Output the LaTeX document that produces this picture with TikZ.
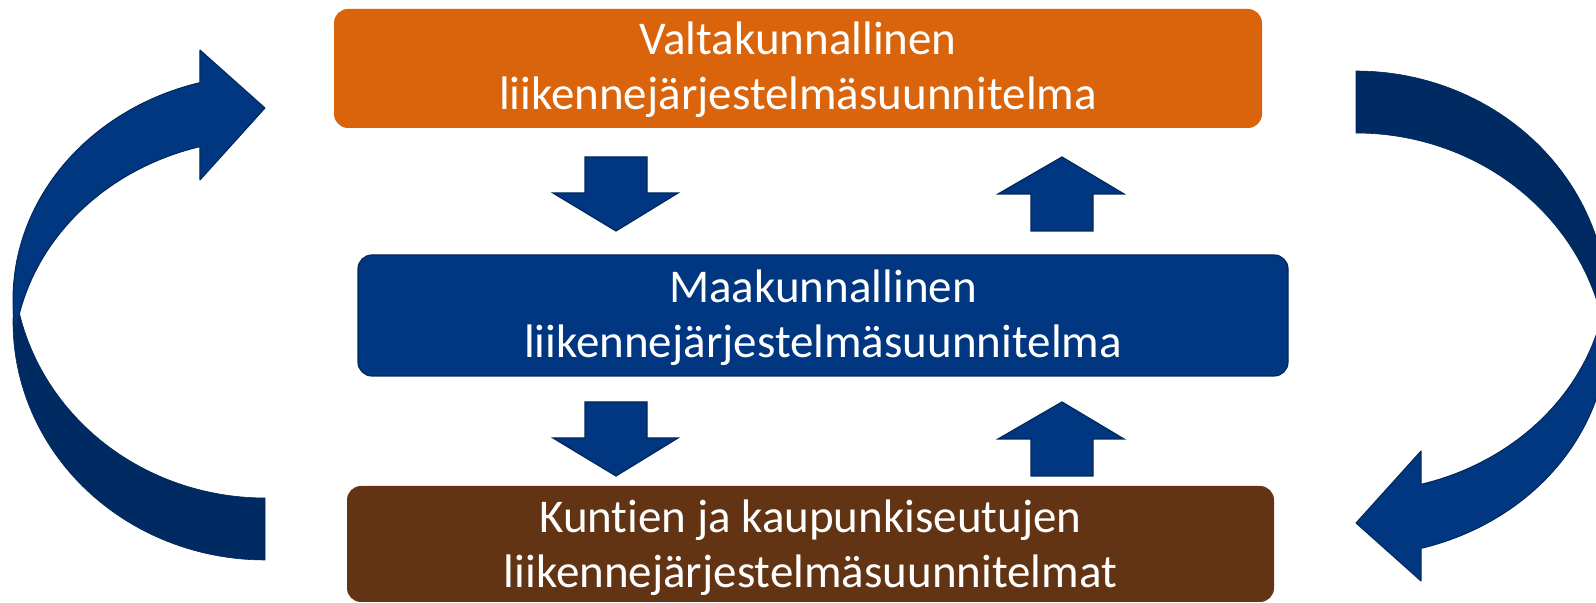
\documentclass[tikz,border=0pt]{standalone}
\usepackage{fontspec}
\setmainfont{Carlito}[Ligatures={NoCommon}]
\definecolor{orangeC}{HTML}{D9640C}
\definecolor{brownC}{HTML}{623414}
\definecolor{blueC}{HTML}{003780}
\definecolor{darkC}{HTML}{002B62}
\definecolor{lineC}{HTML}{00285A}
\tikzset{
  box/.style={rounded corners=7pt, inner sep=0pt},
  txt/.style={text=white, inner sep=0pt, font=\fontsize{23.5}{27.5}\selectfont},
  bright/.style={fill=blueC, draw=lineC, line width=0.5pt, line join=round},
  darkband/.style={fill=darkC, draw=lineC, line width=0.3pt, line join=round},
  blockarrow/.style={fill=blueC, draw=lineC, line width=0.6pt, line join=miter}
}
\newcommand{\curvedarrow}{%
  \path[darkband] plot[domain=270:172.5, samples=60] ({265+252*cos(\x)}, {322-238*sin(\x)})
     -- plot[domain=187.5:270, samples=60] ({265+252*cos(\x)}, {260-238*sin(\x)}) -- cycle;
  \path[bright] plot[domain=105:188.2, samples=60] ({265+252*cos(\x)}, {300-225*sin(\x)})
     -- plot[domain=171.8:105, samples=60] ({265+252*cos(\x)}, {364-225*sin(\x)})
     -- (200,180) -- (265,108) -- (200,50) -- cycle;
}
\begin{document}
\begin{tikzpicture}[x=0.5pt, y=-0.5pt]
\useasboundingbox (0,0) rectangle (1596,603);
\clip (0,0) rectangle (1596,603);

% curved arrows
\curvedarrow
\begin{scope}[rotate around={180:(810.5,315.5)}]
\curvedarrow
\end{scope}

% boxes
\node[box, fill=orangeC, minimum width=464pt, minimum height=59.5pt] (top) at (798,68.5) {};
\node[box, fill=blueC, draw=lineC, line width=0.6pt, minimum width=465pt, minimum height=60.5pt] (mid) at (823,315.5) {};
\node[box, fill=brownC, minimum width=463.5pt, minimum height=58pt] (bot) at (810.5,544) {};

% texts
\node[txt, anchor=base] (top1) at (798,55) {Valtakunnallinen};
\node[txt, anchor=base] (top2) at (798,110) {liikennejärjestelmäsuunnitelma};
\node[txt, anchor=base] (mid1) at (823,303) {Maakunnallinen};
\node[txt, anchor=base] (mid2) at (823,358) {liikennejärjestelmäsuunnitelma};
\node[txt, anchor=base] (bot1) at (810.5,533) {Kuntien ja kaupunkiseutujen};
\node[txt, anchor=base] (bot2) at (810.5,588) {liikennejärjestelmäsuunnitelmat};

% block arrows
\foreach \t in {157,402}{
  \path[blockarrow] (585,\t) -- (647,\t) -- (647,\t+36) -- (678,\t+36) -- (616,\t+74)
     -- (553,\t+36) -- (585,\t+36) -- cycle;
  \path[blockarrow] (1062,\t) -- (1124,\t+37) -- (1093,\t+37) -- (1093,\t+74)
     -- (1031,\t+74) -- (1031,\t+37) -- (998,\t+37) -- cycle;
}
\end{tikzpicture}
\end{document}
